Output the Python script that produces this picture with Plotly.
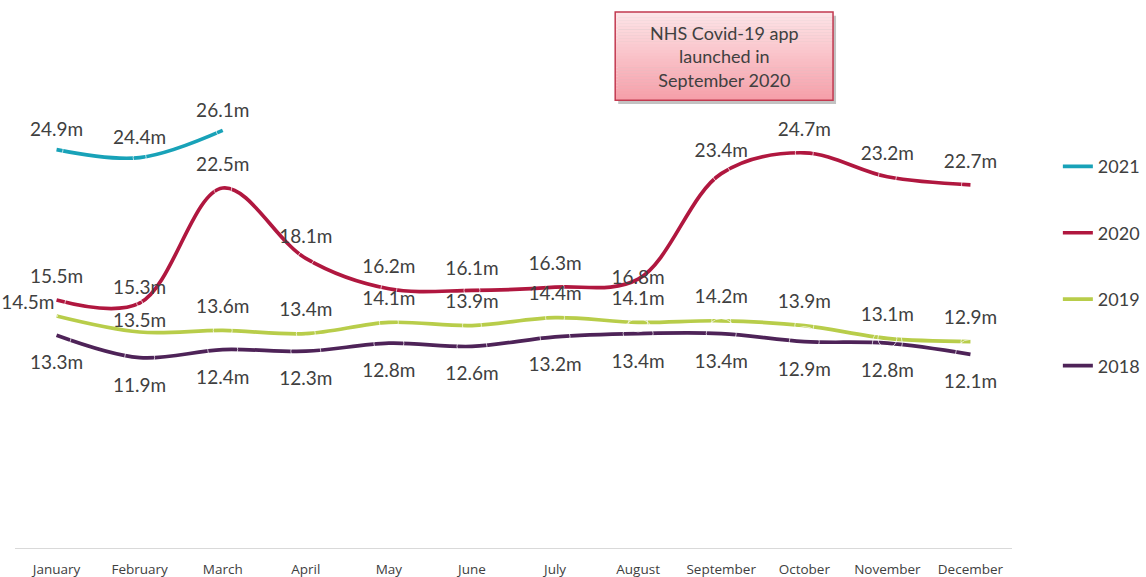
import plotly.graph_objects as go

months = ["January", "February", "March", "April", "May", "June", "July",
          "August", "September", "October", "November", "December"]
v2021 = [24.9, 24.4, 26.1]
v2020 = [15.5, 15.3, 22.5, 18.1, 16.2, 16.1, 16.3, 16.8, 23.4, 24.7, 23.2, 22.7]
v2019 = [14.5, 13.5, 13.6, 13.4, 14.1, 13.9, 14.4, 14.1, 14.2, 13.9, 13.1, 12.9]
v2018 = [13.3, 11.9, 12.4, 12.3, 12.8, 12.6, 13.2, 13.4, 13.4, 12.9, 12.8, 12.1]
series_names = ["2021", "2020", "2019", "2018"]
note_text = "NHS Covid-19 app<br>launched in<br>September 2020"

colors = {"2021": "#18A2B8", "2020": "#B0173F", "2019": "#B8CD4A", "2018": "#4E2358"}
FONT = "Lato, 'Open Sans', sans-serif"
TXT = "#404040"

# label placement styles (offset via invisible marker size)
label_style = {
    "2021": (["top center"] * 3, [13] * 3),
    "2020": (["top center"] * 7 + ["middle center"] + ["top center"] * 4,
             [18, 6, 18, 16, 16, 16, 18, 0, 18, 18, 18, 18]),
    "2019": (["top left"] + ["top center"] * 11,
             [2, 0] + [19] * 10),
    "2018": (["bottom center"] * 12, [30] * 12),
}

data = {"2021": (months[:3], v2021), "2020": (months, v2020),
        "2019": (months, v2019), "2018": (months, v2018)}

fig = go.Figure()
for name in series_names:
    x, y = data[name]
    fig.add_trace(go.Scatter(
        x=x, y=y, name=name, mode="lines", legendgroup=name,
        line=dict(color=colors[name], width=3.7, shape="spline", smoothing=1.0),
        hoverinfo="skip"))
for name in series_names:
    x, y = data[name]
    pos, sizes = label_style[name]
    fig.add_trace(go.Scatter(
        x=x, y=y, mode="markers+text", showlegend=False,
        marker=dict(size=sizes, color="rgba(0,0,0,0)"),
        texttemplate="%{y:.1f}m", textposition=pos,
        textfont=dict(family=FONT, size=19, color=TXT),
        hoverinfo="skip", cliponaxis=False))

# annotation box: shadow, gradient strips, border
x0, x1 = 0.602, 0.8205
y0, y1 = 0.933, 1.1167
shapes = []
shapes.append(dict(type="rect", xref="paper", yref="paper",
                   x0=x0 + 0.003, x1=x1 + 0.003, y0=y0 - 0.008, y1=y1 - 0.008,
                   fillcolor="rgba(120,120,120,0.45)", line=dict(width=0), layer="above"))
n = 30
top = (253, 228, 231)
bot = (246, 160, 170)
for i in range(n):
    t = i / (n - 1)
    c = tuple(int(round(top[k] + (bot[k] - top[k]) * t)) for k in range(3))
    ya = y1 - (y1 - y0) * i / n
    yb = y1 - (y1 - y0) * (i + 1) / n
    shapes.append(dict(type="rect", xref="paper", yref="paper",
                       x0=x0, x1=x1, y0=yb, y1=ya + 0.0005,
                       fillcolor="rgb(%d,%d,%d)" % c, line=dict(width=0), layer="above"))
shapes.append(dict(type="rect", xref="paper", yref="paper",
                   x0=x0, x1=x1, y0=y0, y1=y1,
                   line=dict(color="#C23A50", width=1.5), fillcolor="rgba(0,0,0,0)",
                   layer="above"))

fig.update_layout(
    width=1146, height=577,
    margin=dict(l=15, r=134, t=68, b=29, autoexpand=False),
    paper_bgcolor="white", plot_bgcolor="white",
    shapes=shapes,
    annotations=[dict(xref="paper", yref="paper", x=(x0 + x1) / 2, y=(y0 + y1) / 2,
                      text=note_text, showarrow=False, align="center",
                      font=dict(family=FONT, size=18, color=TXT),
                      xanchor="center", yanchor="middle")],
    xaxis=dict(type="category", categoryorder="array", categoryarray=months,
               range=[-0.5, 11.5], showgrid=False, zeroline=False,
               showline=True, linecolor="#D9D9D9", linewidth=1,
               ticks="outside", ticklen=9, tickcolor="rgba(0,0,0,0)",
               tickfont=dict(family="'Open Sans', sans-serif", size=13.5, color=TXT)),
    yaxis=dict(range=[0, 30], showgrid=False, zeroline=False, showline=False,
               showticklabels=False, ticks=""),
    legend=dict(x=1.046, y=0.833, xanchor="left", yanchor="top",
                font=dict(family=FONT, size=18, color=TXT),
                traceorder="grouped", tracegroupgap=40, itemwidth=30,
                bgcolor="rgba(0,0,0,0)"),
    showlegend=True,
)

fig.write_html("out.html", config={"displayModeBar": False},
               post_script="document.body.style.margin='0';document.body.style.overflow='hidden';")
